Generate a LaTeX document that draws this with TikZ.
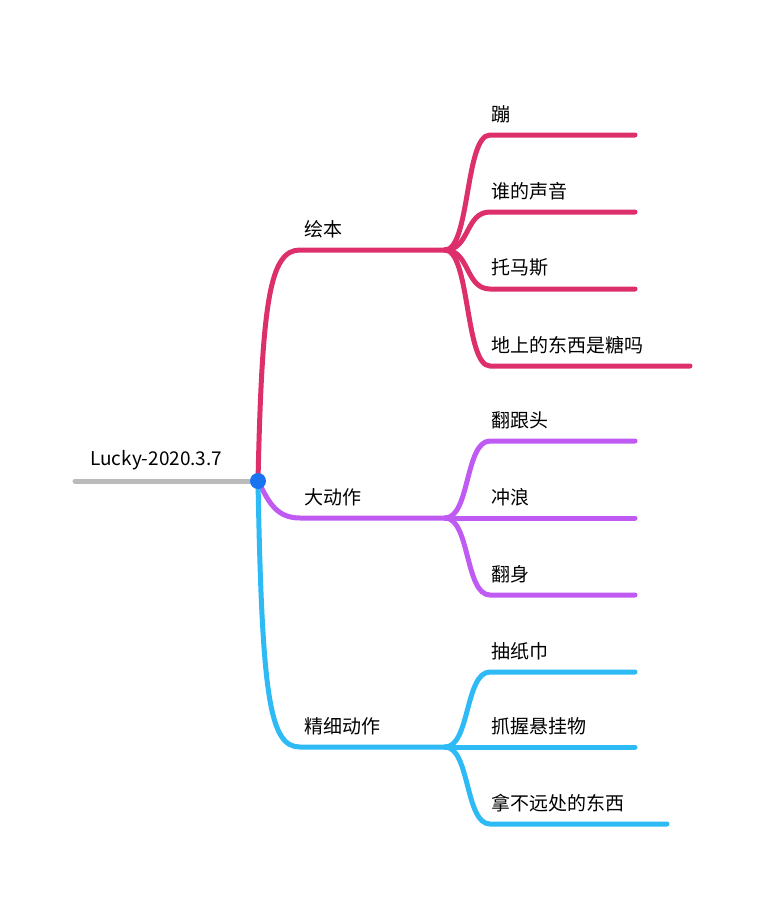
\documentclass[tikz,border=0pt]{standalone}
\usepackage{fontspec}
\setmainfont{Noto Sans CJK SC}
\definecolor{pinkbr}{HTML}{DC2F6B}
\definecolor{purplebr}{HTML}{BF5AF2}
\definecolor{bluebr}{HTML}{2DBAF5}
\definecolor{rootgray}{HTML}{BBBBBB}
\definecolor{dotblue}{HTML}{1A73F0}
\tikzset{
  lbl/.style={anchor=south west, inner sep=0pt, font=\fontsize{19}{22}\selectfont},
  br/.style={line width=5pt, line cap=round}
}
\begin{document}
\begin{tikzpicture}[x=1pt,y=-1pt]
  \useasboundingbox (0,0) rectangle (764,900);
  % root
  \coordinate (rootL) at (75,481);
  \coordinate (root)  at (258,481);
  \draw [br, rootgray] (rootL) -- (root);
  \node [lbl] (rootlbl) at (90,470) {Lucky-2020.3.7};
  % branch 1
  \coordinate (b1) at (300,250); \coordinate (j1) at (445,250);
  \draw [br, pinkbr] (root) .. controls (262,300) and (270,250) .. (b1) -- (j1);
  \node [lbl] (l1) at (304,238) {绘本};
  \foreach \y/\e/\t [count=\i] in {135/635/蹦, 212/635/谁的声音, 289/635/托马斯, 366/690/地上的东西是糖吗}{
    \draw [br, pinkbr] (j1) .. controls (470,250) and (465,\y) .. (490,\y) -- (\e,\y);
    \node [lbl] (s1\i) at (491,\y-12) {\t};
  }
  % branch 2
  \coordinate (b2) at (300,518); \coordinate (j2) at (445,518);
  \draw [br, purplebr] (root) .. controls (268,500) and (275,518) .. (b2) -- (j2);
  \node [lbl] (l2) at (304,506) {大动作};
  \foreach \y/\t [count=\i] in {441/翻跟头, 518/冲浪, 595/翻身}{
    \draw [br, purplebr] (j2) .. controls (470,518) and (465,\y) .. (490,\y) -- (635,\y);
    \node [lbl] (s2\i) at (491,\y-12) {\t};
  }
  % branch 3
  \coordinate (b3) at (300,747); \coordinate (j3) at (445,747);
  \draw [br, bluebr] (root) .. controls (262,700) and (270,747) .. (b3) -- (j3);
  \node [lbl] (l3) at (304,735) {精细动作};
  \foreach \y/\e/\t [count=\i] in {672/635/抽纸巾, 747/635/抓握悬挂物, 824/667/拿不远处的东西}{
    \draw [br, bluebr] (j3) .. controls (470,747) and (465,\y) .. (490,\y) -- (\e,\y);
    \node [lbl] (s3\i) at (491,\y-12) {\t};
  }
  \fill [dotblue] (root) circle (8);
\end{tikzpicture}
\end{document}
